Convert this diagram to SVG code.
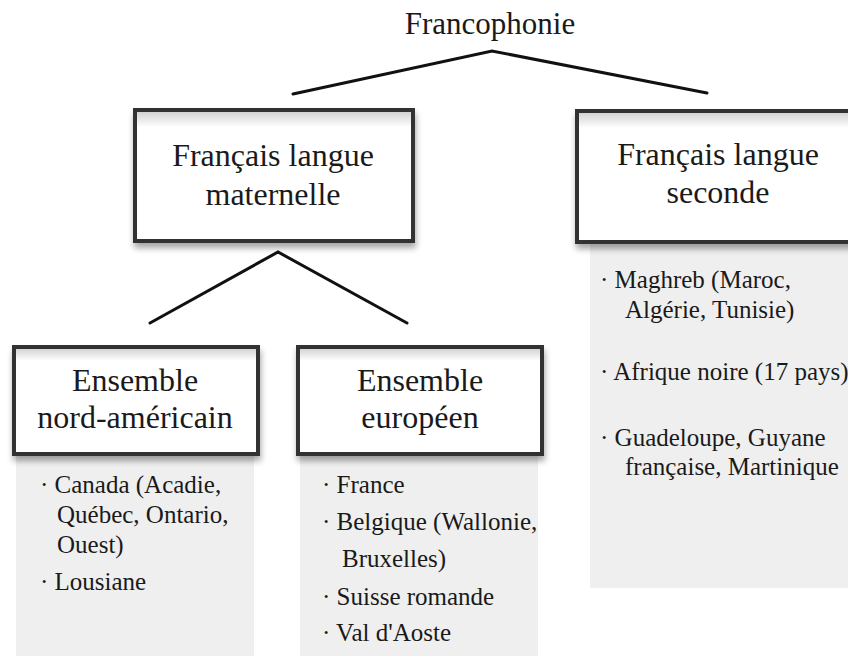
<svg xmlns="http://www.w3.org/2000/svg" width="848" height="656" viewBox="0 0 848 656">
<defs>
<style>
.t{font-family:'Liberation Serif',Tinos,'Times New Roman',Times,'Nimbus Roman','DejaVu Serif',serif;fill:#1a1a1a}
.h{font-size:32px;text-anchor:middle}
.b{font-size:25px}
.box{fill:url(#boxfill);stroke:#333;stroke-width:4;filter:url(#sh)}
.panel{fill:#efefef}
.conn{fill:none;stroke:#111;stroke-width:3;stroke-linecap:round;stroke-linejoin:miter}
</style>
<linearGradient id="boxfill" x1="0" y1="0" x2="0" y2="1">
<stop offset="0" stop-color="#cdcdcd"/>
<stop offset="0.13" stop-color="#ffffff"/>
<stop offset="1" stop-color="#ffffff"/>
</linearGradient>
<filter id="sh" x="-5%" y="-10%" width="115%" height="135%">
<feGaussianBlur in="SourceAlpha" stdDeviation="3"/>
<feOffset dx="1" dy="5" result="o"/>
<feComponentTransfer><feFuncA type="linear" slope="0.35"/></feComponentTransfer>
<feMerge><feMergeNode/><feMergeNode in="SourceGraphic"/></feMerge>
</filter>
</defs>
<rect width="848" height="656" fill="#ffffff"/>

<g id="connectors">
<polyline class="conn" points="293,94 492,51 707,93"/>
<polyline class="conn" points="150,323 278,252 407,323"/>
</g>

<g id="root">
<text class="t h" x="490" y="34" font-family="Liberation Serif, serif" style="font-size:31px">Francophonie</text>
</g>

<g id="panel-nord-americain" font-family="Liberation Serif, serif">
<rect class="panel" x="16" y="456" width="238" height="200"/>
<text class="t b" x="40" y="493">· Canada (Acadie,</text>
<text class="t b" x="57" y="523">Québec, Ontario,</text>
<text class="t b" x="57" y="553">Ouest)</text>
<text class="t b" x="40" y="590">· Lousiane</text>
</g>

<g id="panel-europeen">
<rect class="panel" x="300" y="456" width="238" height="200"/>
<text class="t b" x="322" y="493">· France</text>
<text class="t b" x="322" y="530">· Belgique (Wallonie,</text>
<text class="t b" x="342" y="567">Bruxelles)</text>
<text class="t b" x="322" y="605">· Suisse romande</text>
<text class="t b" x="322" y="641">· Val d'Aoste</text>
</g>

<g id="panel-seconde">
<rect class="panel" x="590" y="244" width="258" height="344"/>
<text class="t b" x="600" y="288">· Maghreb (Maroc,</text>
<text class="t b" x="625" y="318">Algérie, Tunisie)</text>
<text class="t b" x="600" y="380">· Afrique noire (17 pays)</text>
<text class="t b" x="600" y="446">· Guadeloupe, Guyane</text>
<text class="t b" x="625" y="475">française, Martinique</text>
</g>

<g id="node-maternelle">
<rect class="box" x="135" y="110" width="278" height="131"/>
<text class="t h" x="273" y="166">Français langue</text>
<text class="t h" x="273" y="205">maternelle</text>
</g>

<g id="node-seconde">
<rect class="box" x="577" y="111" width="282" height="131"/>
<text class="t h" x="718" y="165">Français langue</text>
<text class="t h" x="718" y="203">seconde</text>
</g>

<g id="node-nord-americain">
<rect class="box" x="14" y="347" width="244" height="107"/>
<text class="t h" x="135" y="391">Ensemble</text>
<text class="t h" x="135" y="428">nord-américain</text>
</g>

<g id="node-europeen">
<rect class="box" x="298" y="347" width="244" height="107"/>
<text class="t h" x="420" y="391">Ensemble</text>
<text class="t h" x="420" y="428">européen</text>
</g>
</svg>
